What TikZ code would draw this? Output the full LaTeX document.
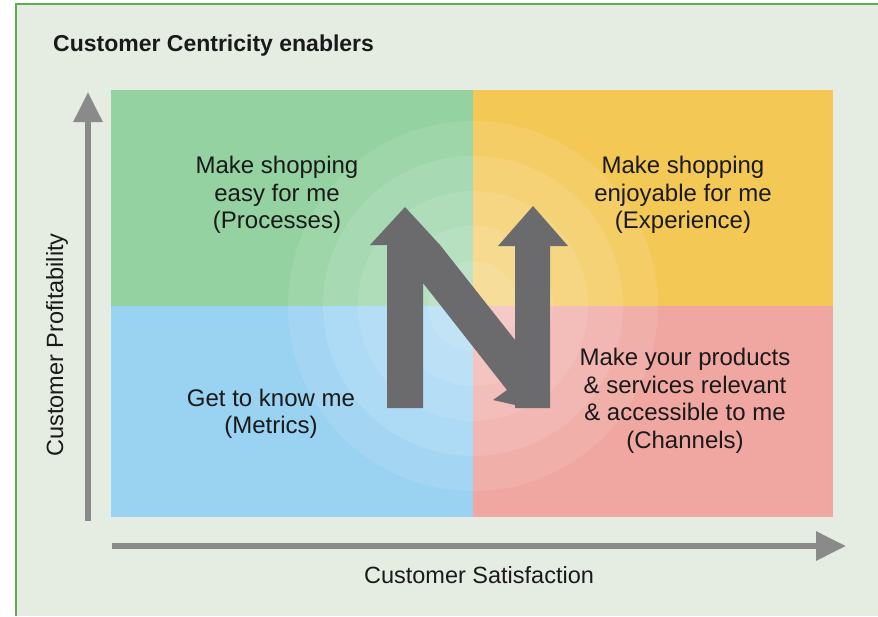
\documentclass[tikz,border=0pt]{standalone}
\usepackage{fontspec}
\setmainfont{Liberation Sans}
\usepackage{tikz}
\usetikzlibrary{positioning, arrows.meta}
\definecolor{pageBg}{HTML}{E5EDE2}
\definecolor{frameGreen}{HTML}{5DAF4E}
\definecolor{quadGreen}{HTML}{94D2A1}
\definecolor{quadYellow}{HTML}{F3C855}
\definecolor{quadBlue}{HTML}{9AD2F2}
\definecolor{quadPink}{HTML}{F0A7A1}
\definecolor{axisGrey}{HTML}{8A8A8A}
\definecolor{arrowGrey}{HTML}{6B6B6E}
\definecolor{inkBlack}{HTML}{1A1A1A}

\tikzset{
  axis/.style={line width=6pt, axisGrey, -{Triangle[width=28pt, length=30pt]}},
  quadtext/.style={align=center, text=inkBlack,
                   font=\fontsize{24}{27.5}\selectfont},
  axistext/.style={text=inkBlack, font=\fontsize{23.5}{27}\selectfont}
}

\begin{document}
\begin{tikzpicture}[x=1pt, y=-1pt]
  \useasboundingbox (0,0) rectangle (878,616);
  \fill[pageBg] (16,4) rectangle (878,616);
  \draw[frameGreen, line width=2pt] (16,616) -- (16,4) -- (878,4);

  \node[anchor=base west, inner sep=0pt, text=inkBlack,
        font=\fontsize{23}{27}\selectfont\bfseries]
    (title) at (53,51) {Customer Centricity enablers};

  % the four quadrants
  \fill[quadGreen]  (111,90)  rectangle (473,306);
  \fill[quadYellow] (473,90)  rectangle (833,306);
  \fill[quadBlue]   (111,306) rectangle (473,517);
  \fill[quadPink]   (473,306) rectangle (833,517);

  \foreach \r in {185,150,115,80,45}
    \fill[white, opacity=0.1] (473,306) circle[radius=\r pt];

  % the N arrow
  \fill[arrowGrey] (387,408) -- (387,245) -- (370,245) -- (405,207) -- (440,245)
    -- (515,340) -- (515,246) -- (498,246) -- (533,206) -- (568,246) -- (550,246)
    -- (550,408) -- (515,408) -- (515,405) -- (493,400) -- (507,390) -- (423,283)
    -- (423,408) -- cycle;

  \node[quadtext] (ease)     at (277,195) {Make shopping\\easy for me\\(Processes)};
  \node[quadtext] (enjoy)    at (683,195) {Make shopping\\enjoyable for me\\(Experience)};
  \node[quadtext] (metrics)  at (271,414) {Get to know me\\(Metrics)};
  \node[quadtext] (channels) at (685,401) {Make your products\\\& services relevant\\\& accessible to me\\(Channels)};

  % axes
  \coordinate (yfoot) at (88,521);
  \coordinate (ytip)  at (88,92);
  \coordinate (xfoot) at (112,546);
  \coordinate (xtip)  at (846,546);
  \draw[axis] (yfoot) -- (ytip);
  \draw[axis] (xfoot) -- (xtip);

  \node[axistext, rotate=90] (profit) at (57,345) {Customer Profitability};
  \node[axistext] (satisf) at (479,575) {Customer Satisfaction};
\end{tikzpicture}
\end{document}
